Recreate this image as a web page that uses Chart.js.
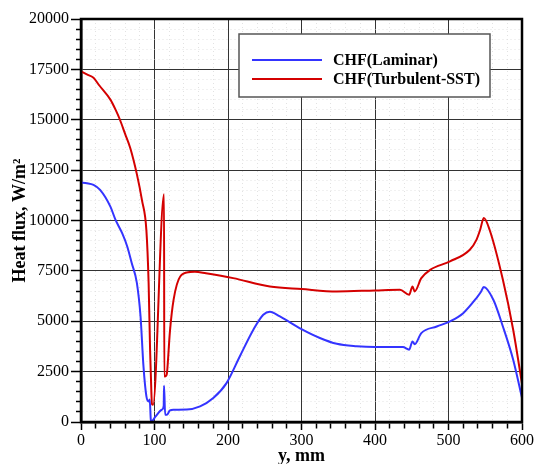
<!DOCTYPE html>
<html>
<head>
<meta charset="utf-8">
<title>CHF</title>
<script src="https://cdn.jsdelivr.net/npm/chart.js@4.4.0/dist/chart.umd.min.js"></script>
<style>
  body { margin: 0; background: #fff; }
  .chart-box { width: 536px; height: 464px; }
</style>
</head>
<body>
<div class="chart-box"><canvas class="chart-chf"></canvas></div>
<script>
// data
const lamX = [0, 8, 17, 26, 40, 47, 56, 63, 69, 76, 81, 85, 89, 92, 93.5, 95, 96, 101, 110, 112.5, 113, 114.5, 117, 121, 126, 144, 162, 180, 198, 216, 234.5, 248, 257, 270, 300, 325, 348, 375, 400, 438, 446.5, 451, 454, 463, 484, 502, 520, 538, 544, 548, 561, 574, 588, 600];
const lamY = [11880, 11850, 11770, 11520, 10690, 10030, 9370, 8700, 7890, 6900, 5240, 2760, 1270, 1020, 1120, 110, 30, 250, 610, 800, 1800, 360, 360, 580, 610, 620, 775, 1190, 1930, 3250, 4580, 5320, 5470, 5250, 4610, 4170, 3880, 3760, 3720, 3720, 3590, 4000, 3860, 4410, 4740, 4990, 5400, 6150, 6450, 6700, 6070, 4740, 3090, 1200];

const turbX = [0, 8, 17, 25, 40, 47, 53, 60, 67, 76, 83, 89, 92, 94, 95, 96.5, 98, 113, 113.3, 116, 117, 121, 126, 135, 148, 155, 170, 207, 257, 300, 348, 400, 434, 446.5, 451, 454, 463, 475, 502, 529, 538, 543, 548, 556, 574, 588, 600];
const turbY = [17400, 17250, 17080, 16700, 16000, 15500, 15000, 14300, 13600, 12300, 11000, 9500, 6900, 3570, 2400, 900, 850, 11300, 2260, 2300, 2440, 4500, 6070, 7220, 7440, 7460, 7380, 7140, 6730, 6600, 6480, 6530, 6560, 6310, 6730, 6480, 7140, 7550, 7970, 8550, 9040, 9530, 10120, 9530, 7060, 4580, 1900];

const labels = ['CHF(Laminar)', 'CHF(Turbulent-SST)'];
const kleuren = ['#3434ff', '#d40000'];

const xMin = 0, xMax = 600, xStap = 20, xHoofd = 100;
const yMin = 0, yMax = 20000, yStap = 500, yHoofd = 2500;

const lettertype = 'Liberation Serif, Times New Roman, serif';

// x en y samenvoegen tot punten
function punten(xs, ys) {
  const lijst = [];
  for (let i = 0; i < xs.length; i++) {
    lijst.push({ x: xs[i], y: ys[i] });
  }
  return lijst;
}

// kader rondom en legenda in de grafiek
const kaderPlugin = {
  id: 'kader',
  afterDraw(chart) {
    const ctx = chart.ctx;
    const a = chart.chartArea;
    ctx.save();
    ctx.strokeStyle = '#000';
    ctx.lineWidth = 2.5;
    ctx.strokeRect(a.left, a.top, a.right - a.left, a.bottom - a.top);

    // legenda
    ctx.fillStyle = '#fff';
    ctx.fillRect(239, 34, 251, 63);
    ctx.strokeStyle = '#555';
    ctx.lineWidth = 1.5;
    ctx.strokeRect(239, 34, 251, 63);
    ctx.font = 'bold 16px ' + lettertype;
    ctx.textBaseline = 'middle';
    chart.data.datasets.forEach(function (ds, i) {
      const y = 60 + i * 19;
      ctx.strokeStyle = ds.borderColor;
      ctx.lineWidth = 2;
      ctx.beginPath();
      ctx.moveTo(252, y);
      ctx.lineTo(322, y);
      ctx.stroke();
      ctx.fillStyle = '#000';
      ctx.fillText(ds.label, 333, y + 1);
    });
    ctx.restore();
  }
};

function isHoofd(ctx, stap) {
  return ctx.tick && ctx.tick.value % stap === 0;
}

const chChart = document.querySelector('.chart-chf');

new Chart(chChart, {
  type: 'line',
  data: {
    datasets: [
      {
        label: labels[0],
        data: punten(lamX, lamY),
        borderColor: kleuren[0],
        borderWidth: 2,
        pointRadius: 0,
        cubicInterpolationMode: 'monotone'
      },
      {
        label: labels[1],
        data: punten(turbX, turbY),
        borderColor: kleuren[1],
        borderWidth: 2,
        pointRadius: 0,
        cubicInterpolationMode: 'monotone'
      }
    ]
  },
  options: {
    responsive: true,
    maintainAspectRatio: false,
    animation: false,
    devicePixelRatio: 1,
    layout: { padding: { top: 19, right: 14, left: 0, bottom: 0 } },
    plugins: {
      legend: { display: false },
      tooltip: { enabled: false }
    },
    scales: {
      x: {
        type: 'linear',
        min: xMin,
        max: xMax,
        afterFit: function (scale) { scale.height = 42; },
        ticks: {
          stepSize: xStap,
          autoSkip: false,
          maxRotation: 0,
          padding: 1,
          color: '#000',
          font: { family: lettertype, size: 16 },
          callback: function (v) { return v % xHoofd === 0 ? v : ''; }
        },
        grid: {
          color: function (ctx) { return isHoofd(ctx, xHoofd) ? '#333' : '#e2e2e2'; },
          lineWidth: 1,
          tickLength: 8,
          tickColor: '#000',
          tickWidth: 1.5,
          tickBorderDash: function (ctx) { return isHoofd(ctx, xHoofd) ? [] : [5, 100]; }
        },
        border: {
          display: true,
          color: '#000',
          width: 2.5,
          dash: function (ctx) { return !ctx.tick || isHoofd(ctx, xHoofd) ? [] : [1, 3]; }
        },
        title: {
          display: true,
          text: 'y, mm',
          color: '#000',
          font: { family: lettertype, size: 18, weight: 'bold' },
          padding: { top: 0, bottom: -3 }
        }
      },
      y: {
        type: 'linear',
        min: yMin,
        max: yMax,
        afterFit: function (scale) { scale.width = 81; },
        ticks: {
          stepSize: yStap,
          autoSkip: false,
          padding: 2,
          color: '#000',
          font: { family: lettertype, size: 16 },
          callback: function (v) { return v % yHoofd === 0 ? v : ''; }
        },
        grid: {
          color: function (ctx) { return isHoofd(ctx, yHoofd) ? '#333' : '#e2e2e2'; },
          lineWidth: 1,
          tickLength: 10,
          tickColor: '#000',
          tickWidth: 1.5,
          tickBorderDash: function (ctx) { return isHoofd(ctx, yHoofd) ? [] : [0, 5, 5, 100]; }
        },
        border: {
          display: true,
          color: '#000',
          width: 2.5,
          dash: function (ctx) { return !ctx.tick || isHoofd(ctx, yHoofd) ? [] : [1, 3]; }
        },
        title: {
          display: true,
          text: 'Heat flux, W/m²',
          color: '#000',
          font: { family: lettertype, size: 18, weight: 'bold' },
          padding: { top: 10, bottom: 0 }
        }
      }
    }
  },
  plugins: [kaderPlugin]
});
</script>
</body>
</html>
